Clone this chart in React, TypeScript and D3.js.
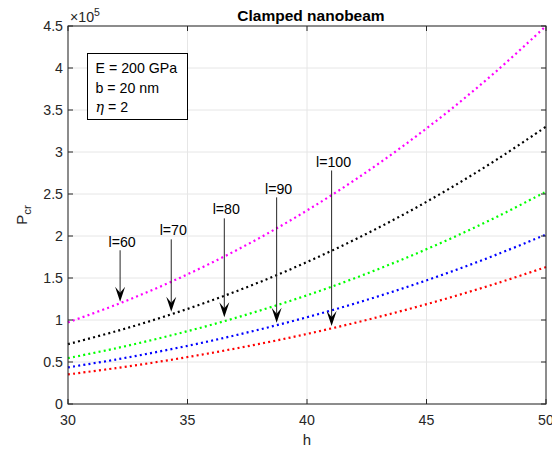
import React from "react";
import * as d3 from "d3";

const hValues = [30, 32, 34, 36, 38, 40, 42, 44, 46, 48, 50];
const pL60 = [0.972, 1.18, 1.415, 1.68, 1.975, 2.304, 2.667, 3.067, 3.504, 3.981, 4.5];
const pL70 = [0.713, 0.865, 1.038, 1.232, 1.449, 1.69, 1.957, 2.25, 2.571, 2.921, 3.301];
const pL80 = [0.546, 0.663, 0.795, 0.943, 1.11, 1.294, 1.498, 1.723, 1.968, 2.236, 2.528];
const pL90 = [0.436, 0.529, 0.635, 0.753, 0.886, 1.033, 1.196, 1.376, 1.572, 1.786, 2.018];
const pL100 = [0.352, 0.427, 0.512, 0.608, 0.715, 0.834, 0.966, 1.111, 1.269, 1.442, 1.63];

const seriesNames = ["l=60", "l=70", "l=80", "l=90", "l=100"];
const seriesValues = [pL60, pL70, pL80, pL90, pL100];
const seriesColors = ["#ff00ff", "#000000", "#00ff00", "#0000ff", "#ff0000"];

// annotation arrows in data units: h, tail P, head P, label P
const arrowH = [32.18, 34.32, 36.54, 38.73, 41.03];
const arrowTail = [1.83, 1.96, 2.21, 2.46, 2.78];
const arrowHead = [1.218, 1.099, 1.032, 0.968, 0.929];
const labelP = [1.93, 2.07, 2.32, 2.56, 2.88];

const xTicks = [30, 35, 40, 45, 50];
const yTicks = [0, 0.5, 1, 1.5, 2, 2.5, 3, 3.5, 4, 4.5];
const infoLines = ["E = 200 GPa", "b = 20 nm"];

const W = 552, H = 451;
const L = 68, R = 546, T = 26, B = 404;
const FONT = "'Liberation Sans', Arial, Helvetica, sans-serif";
const AX = "#262626";
const GRID = "#e6e6e6";
const FS = 14.2;

export default function App() {
  const x = d3.scaleLinear().domain([30, 50]).range([L, R]);
  const y = d3.scaleLinear().domain([0, 4.5]).range([B, T]);
  const line = d3
    .line<number>()
    .x((_, i) => x(hValues[i]))
    .y((d) => y(d))
    .curve(d3.curveCatmullRom);
  const tick = 5;
  return (
    <svg
      width={W}
      height={H}
      style={{ position: "absolute", left: 0, top: 0, background: "#fff" }}
      fontFamily={FONT}
    >
      <rect x={0} y={0} width={W} height={H} fill="#fff" />
      {/* grid */}
      {xTicks.map((t) => (
        <line key={"gx" + t} x1={x(t)} x2={x(t)} y1={T} y2={B} stroke={GRID} strokeWidth={1} />
      ))}
      {yTicks.map((t) => (
        <line key={"gy" + t} x1={L} x2={R} y1={y(t)} y2={y(t)} stroke={GRID} strokeWidth={1} />
      ))}
      {/* series */}
      {seriesValues.map((vals, i) => (
        <path
          key={seriesNames[i]}
          d={line(vals) || ""}
          fill="none"
          stroke={seriesColors[i]}
          strokeWidth={2.2}
          strokeDasharray="2 3.2"
        />
      ))}
      {/* axes box */}
      <rect x={L} y={T} width={R - L} height={B - T} fill="none" stroke={AX} strokeWidth={1} />
      {xTicks.map((t) => (
        <g key={"tx" + t}>
          <line x1={x(t)} x2={x(t)} y1={B} y2={B - tick} stroke={AX} />
          <line x1={x(t)} x2={x(t)} y1={T} y2={T + tick} stroke={AX} />
          <text x={x(t)} y={B + 21} textAnchor="middle" fontSize={FS} fill={AX}>
            {t}
          </text>
        </g>
      ))}
      {yTicks.map((t) => (
        <g key={"ty" + t}>
          <line x1={L} x2={L + tick} y1={y(t)} y2={y(t)} stroke={AX} />
          <line x1={R} x2={R - tick} y1={y(t)} y2={y(t)} stroke={AX} />
          <text x={L - 5} y={y(t) + 5} textAnchor="end" fontSize={FS} fill={AX}>
            {t}
          </text>
        </g>
      ))}
      {/* exponent */}
      <text x={L + 2} y={22} fontSize={FS} fill={AX}>
        ×10
        <tspan dy={-6} fontSize={10.5}>5</tspan>
      </text>
      {/* title */}
      <text x={(L + R) / 2 + 4} y={20.5} textAnchor="middle" fontSize={15.5} fontWeight="bold" fill="#000">
        Clamped nanobeam
      </text>
      {/* axis labels */}
      <text x={(L + R) / 2} y={445} textAnchor="middle" fontSize={15} fill={AX}>
        h
      </text>
      <text transform={`translate(27,${(T + B) / 2}) rotate(-90)`} textAnchor="middle" fontSize={15} fill={AX}>
        P
        <tspan dy={4} fontSize={11.5}>cr</tspan>
      </text>
      {/* info box */}
      <rect x={87.5} y={53.5} width={100} height={66} fill="#fff" stroke="#000" strokeWidth={1} />
      {infoLines.map((s, i) => (
        <text key={s} x={95.5} y={73 + i * 19.5} fontSize={FS} fill="#000">
          {s}
        </text>
      ))}
      <text x={95.5} y={73 + 2 * 19.5} fontSize={FS} fill="#000">
        <tspan fontStyle="italic" fontFamily="'DejaVu Serif', 'Liberation Serif', serif">η</tspan> = 2
      </text>
      {/* arrows */}
      {seriesNames.map((name, i) => {
        const ax = x(arrowH[i]);
        const y0 = y(arrowTail[i]);
        const y1 = y(arrowHead[i]);
        return (
          <g key={"a" + name}>
            <line x1={ax} x2={ax} y1={y0} y2={y1 - 9} stroke="#262626" strokeWidth={1} />
            <path
              d={`M${ax},${y1} L${ax - 5},${y1 - 15} L${ax},${y1 - 9} L${ax + 5},${y1 - 15} Z`}
              fill="#000"
            />
            <text x={ax + 2} y={y(labelP[i]) + 5} textAnchor="middle" fontSize={FS} fill="#000">
              {name}
            </text>
          </g>
        );
      })}
    </svg>
  );
}
